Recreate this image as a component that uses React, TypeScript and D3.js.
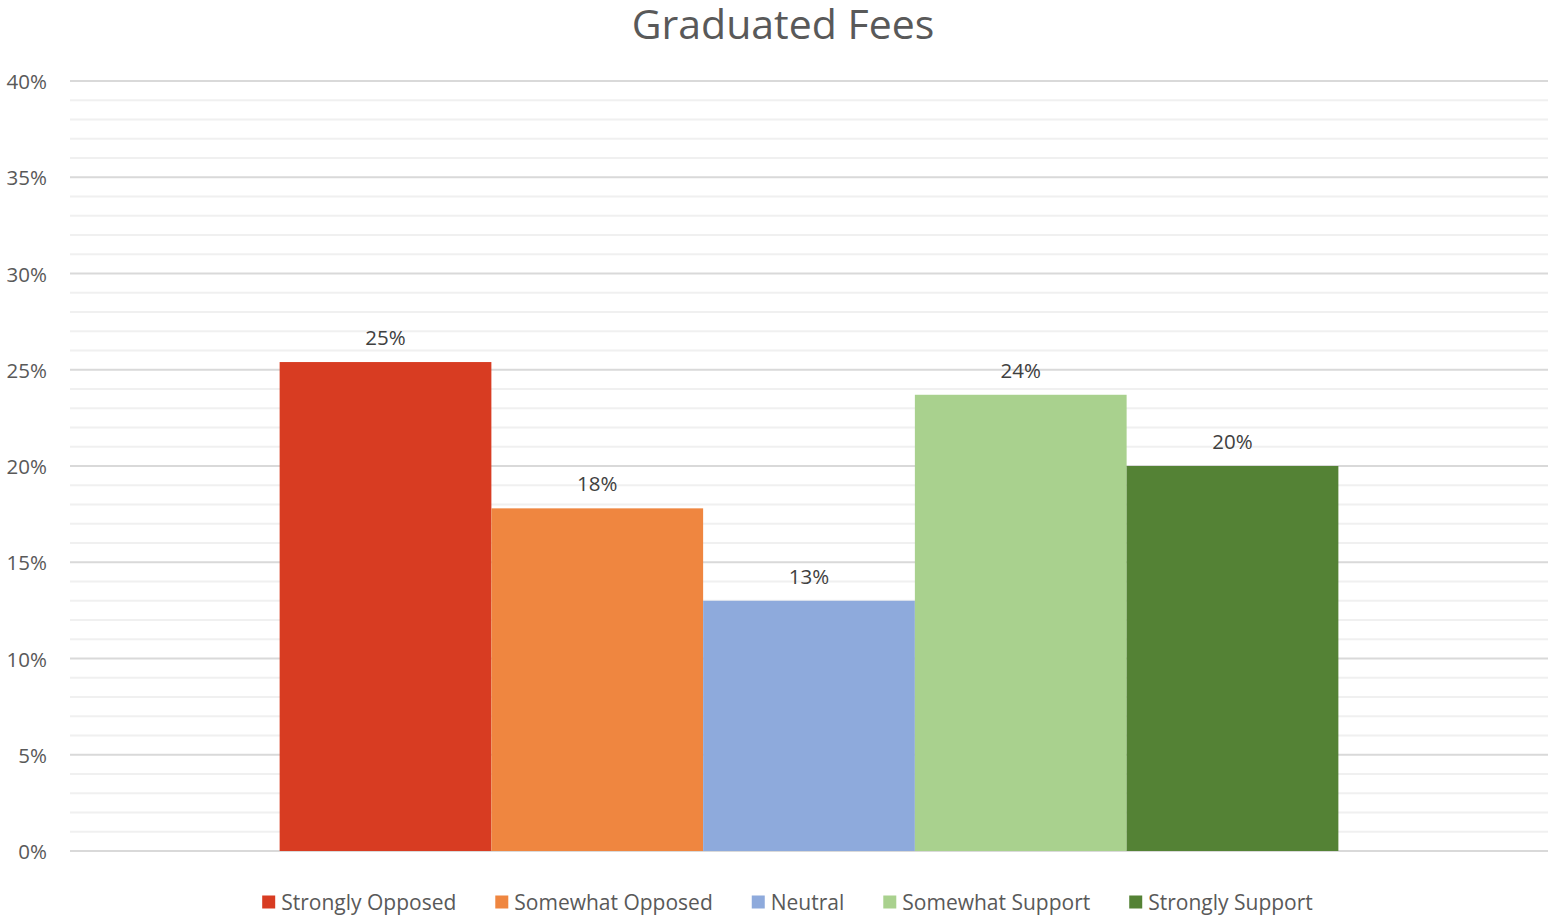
import React, { useEffect, useRef } from "react";
import * as d3 from "d3";

const title = "Graduated Fees";
const seriesNames = ["Strongly Opposed", "Somewhat Opposed", "Neutral", "Somewhat Support", "Strongly Support"];
const seriesValues = [0.254, 0.178, 0.13, 0.237, 0.2];
const seriesColors = ["#d83c22", "#ef8640", "#8eaadc", "#a9d18e", "#548235"];
const yTicks = [0, 0.05, 0.1, 0.15, 0.2, 0.25, 0.3, 0.35, 0.4];
const minorTicks = d3.range(0, 41).map((d) => d / 100);

const W = 1550;
const H = 917;
const FONT = "'Open Sans', sans-serif";

export default function App() {
  const ref = useRef<SVGSVGElement | null>(null);

  useEffect(() => {
    const svg = d3.select(ref.current);
    svg.selectAll("*").remove();

    const left = 70, right = 1548, top = 81, bottom = 851;
    const y = d3.scaleLinear().domain([0, 0.4]).range([bottom, top]);
    const x = d3.scaleBand<string>().domain(seriesNames).range([left, right]).paddingInner(0).paddingOuter(0.99);

    // minor grid
    svg.append("g").selectAll("line").data(minorTicks.filter((t) => Math.round(t * 100) % 5 !== 0)).join("line")
      .attr("x1", left).attr("x2", right)
      .attr("y1", (d) => y(d)).attr("y2", (d) => y(d))
      .attr("stroke", "#f0f0f0").attr("stroke-width", 2);
    // major grid
    svg.append("g").selectAll("line").data(yTicks).join("line")
      .attr("x1", left).attr("x2", right)
      .attr("y1", (d) => y(d)).attr("y2", (d) => y(d))
      .attr("stroke", "#d9d9d9").attr("stroke-width", 2);

    // y labels
    svg.append("g").selectAll("text").data(yTicks).join("text")
      .attr("x", 47).attr("y", (d) => y(d))
      .attr("text-anchor", "end").attr("dominant-baseline", "central")
      .attr("font-family", FONT).attr("font-size", 20.5).attr("fill", "#595959")
      .text((d) => d3.format(".0%")(d));

    // bars
    svg.append("g").selectAll("rect").data(seriesNames).join("rect")
      .attr("x", (d) => x(d)!).attr("width", x.bandwidth())
      .attr("y", (d, i) => y(seriesValues[i]))
      .attr("height", (d, i) => bottom - y(seriesValues[i]))
      .attr("fill", (d, i) => seriesColors[i]);

    // labels
    svg.append("g").selectAll("text").data(seriesNames).join("text")
      .attr("x", (d) => x(d)! + x.bandwidth() / 2)
      .attr("y", (d, i) => y(seriesValues[i]) - 25)
      .attr("text-anchor", "middle").attr("dominant-baseline", "central")
      .attr("font-family", FONT).attr("font-size", 20.5).attr("fill", "#404040")
      .text((d, i) => d3.format(".0%")(seriesValues[i]));

    // title
    svg.append("text").attr("x", 783).attr("y", 23)
      .attr("text-anchor", "middle").attr("dominant-baseline", "central")
      .attr("font-family", FONT).attr("font-size", 41).attr("fill", "#595959")
      .text(title);

    // legend
    const lg = svg.append("g");
    const items = lg.selectAll("g").data(seriesNames).join("g");
    items.append("rect").attr("width", 13).attr("height", 13).attr("y", -6.5)
      .attr("fill", (d, i) => seriesColors[i]);
    items.append("text").attr("x", 19).attr("y", 0)
      .attr("dominant-baseline", "central")
      .attr("font-family", FONT).attr("font-size", 21).attr("fill", "#595959")
      .text((d) => d);
    let cx = 0;
    const positions: number[] = [];
    items.each(function () {
      const t = (this as SVGGElement).querySelector("text") as SVGTextElement;
      positions.push(cx);
      cx += 19 + t.getComputedTextLength() + 39;
    });
    const total = cx - 39;
    const start = 787.5 - total / 2;
    items.attr("transform", (d, i) => `translate(${start + positions[i]},902)`);
  }, []);

  return (
    <svg ref={ref} width={W} height={H} style={{ position: "absolute", left: 0, top: 0, background: "#fff" }} />
  );
}
